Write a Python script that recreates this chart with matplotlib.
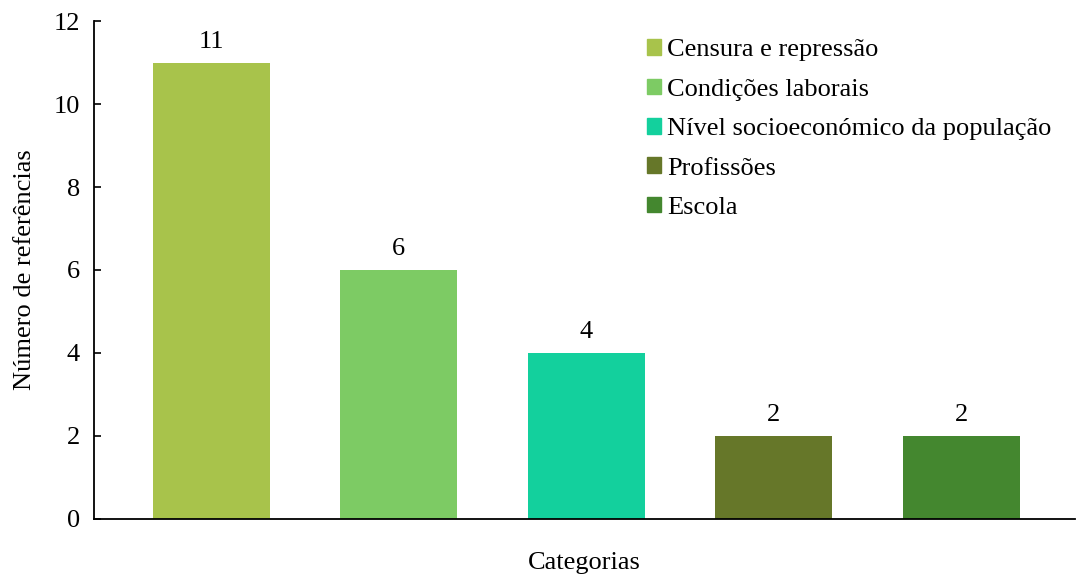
import matplotlib.pyplot as plt
from matplotlib.patches import Patch

categorias = ['Censura e repressão', 'Condições laborais',
              'Nível socioeconómico da população', 'Profissões', 'Escola']
valores = [11, 6, 4, 2, 2]
cores = ['#A8C34B', '#7DCB64', '#13D09D', '#667729', '#44872F']

plt.rcParams['font.family'] = ['Liberation Serif', 'DejaVu Serif']
fs = 19

fig = plt.figure(figsize=(10.78, 5.76), dpi=100)
ax = fig.add_axes([0.0872, 0.099, 0.9098, 0.8645])

x = range(len(valores))
bars = ax.bar(x, valores, width=0.625, color=cores)
for b, v in zip(bars, valores):
    ax.annotate(str(v), (b.get_x() + b.get_width() / 2, v),
                xytext=(0, 7), textcoords='offset points',
                ha='center', va='bottom', fontsize=fs)

ax.set_xlim(-0.625, 4.605)
ax.set_ylim(0, 12)
ax.set_yticks(range(0, 13, 2))
ax.set_xticks([])
ax.tick_params(axis='y', direction='in', length=5, width=1.2, labelsize=fs, pad=10)
for s in ['top', 'right']:
    ax.spines[s].set_visible(False)
ax.spines['left'].set_linewidth(1.3)
ax.spines['bottom'].set_linewidth(1.3)

ax.set_ylabel('Número de referências', fontsize=fs, labelpad=13)
ax.set_xlabel('Categorias', fontsize=fs, labelpad=24)

handles = [Patch(color=c) for c in cores]
ax.legend(handles, categorias, loc='upper left', bbox_to_anchor=(0.550, 0.99),
          frameon=False, fontsize=fs, handlelength=0.53, handleheight=0.53,
          handletextpad=0.25, labelspacing=0.655, borderaxespad=0.1)

fig.savefig('out.png', dpi=100)
